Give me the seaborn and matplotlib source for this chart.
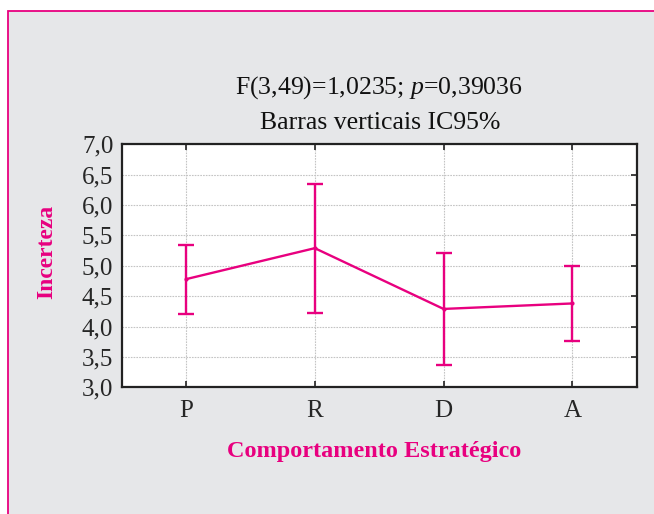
import matplotlib
matplotlib.use("Agg")
import matplotlib.pyplot as plt
import seaborn as sns
import pandas as pd
import numpy as np
from matplotlib.patches import Rectangle

categories = ["P", "R", "D", "A"]
means = [4.78, 5.29, 4.29, 4.38]
ci_upper = [5.34, 6.35, 5.21, 4.99]
ci_lower = [4.21, 4.23, 3.37, 3.77]
y_ticks = [3.0, 3.5, 4.0, 4.5, 5.0, 5.5, 6.0, 6.5, 7.0]
y_ticklabels = ["3,0", "3,5", "4,0", "4,5", "5,0", "5,5", "6,0", "6,5", "7,0"]

MAG = "#e8007f"
BG = "#e6e7e9"

sns.set_theme(style="white")
plt.rcParams["font.family"] = ["Liberation Serif", "DejaVu Serif"]
plt.rcParams["mathtext.fontset"] = "custom"
plt.rcParams["mathtext.rm"] = "Liberation Serif"
plt.rcParams["mathtext.it"] = "Liberation Serif:italic"

fig = plt.figure(figsize=(6.54, 5.14), dpi=100)
fig.patch.set_facecolor("white")
fig.patches.append(Rectangle((8 / 654, -0.1), 1.2, 1.1 - 11 / 514,
                             transform=fig.transFigure, facecolor=BG,
                             edgecolor=MAG, linewidth=1.3, zorder=-10))

ax = fig.add_axes([0.186, 0.2465, 0.7875, 0.4728])
ax.set_facecolor("white")

df = pd.DataFrame({"cat": categories, "mean": means, "x": np.arange(len(categories))})
sns.lineplot(data=df, x="x", y="mean", ax=ax, color=MAG, linewidth=1.7,
             marker="o", markersize=3, markeredgewidth=0, sort=False)
lo = np.array(means) - np.array(ci_lower)
hi = np.array(ci_upper) - np.array(means)
ax.errorbar(df["x"], df["mean"], yerr=[lo, hi], fmt="none", ecolor=MAG,
            elinewidth=1.7, capsize=5.5, capthick=1.7)

ax.set_xlim(-0.5, 3.5)
ax.set_ylim(3.0, 7.0)
ax.set_xticks(range(len(categories)))
ax.set_xticklabels(categories, fontsize=18)
ax.set_yticks(y_ticks)
ax.set_yticklabels(y_ticklabels, fontsize=18)
ax.tick_params(direction="in", length=4, width=1.2, color="#222222",
               top=True, right=True, bottom=True, left=False)
ax.tick_params(axis="x", pad=9)
ax.tick_params(axis="y", pad=6)
ax.grid(True, color="#c4c4c4", linestyle=(0, (1.5, 1)), linewidth=0.8)
for s in ax.spines.values():
    s.set_color("#222222")
    s.set_linewidth(1.6)

ax.set_xlabel("")
ax.set_ylabel("")
fig.text(47 / 654, 1 - 252 / 514, "Incerteza", rotation=90, color=MAG,
         fontsize=17, fontweight="bold", ha="center", va="center")
fig.text(374 / 654, 1 - 452 / 514, "Comportamento Estratégico", color=MAG,
         fontsize=17.5, fontweight="bold", ha="center", va="center")
fig.text(379 / 654, 1 - 88 / 514, "F(3,49)=1,0235; $\\mathit{p}$=0,39036",
         fontsize=18.5, ha="center", va="center", color="#111111")
fig.text(380 / 654, 1 - 123 / 514, "Barras verticais IC95%",
         fontsize=18.5, ha="center", va="center", color="#111111")

fig.savefig("out.png", dpi=100, facecolor=fig.get_facecolor())
